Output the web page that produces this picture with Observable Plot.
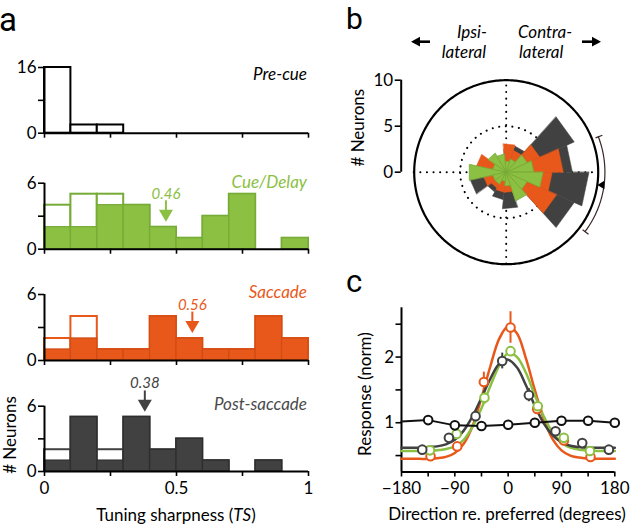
<!DOCTYPE html>
<html><head><meta charset="utf-8">
<script src="https://cdn.jsdelivr.net/npm/d3@7"></script>
<script src="https://cdn.jsdelivr.net/npm/@observablehq/plot@0.6"></script>
<style>
body{margin:0;background:#fff;}
#fig{position:relative;width:640px;height:527px;overflow:hidden;font-family:Lato,"Noto Sans",sans-serif;background:#fff;}
#fig svg{position:absolute;overflow:visible;}
</style></head><body><div id="fig"></div>
<script>
// ---------- DATA: panel a (histograms of tuning sharpness) ----------
const binStarts = [0, 0.1, 0.2, 0.3, 0.4, 0.5, 0.6, 0.7, 0.8, 0.9];
const binWidth = 0.1;
const preCueAll = [16, 2, 2, 0, 0, 0, 0, 0, 0, 0];
const cueAll    = [4, 5, 5, 4, 2, 1, 3, 5, 0, 1];
const cueSig    = [2, 2, 4, 4, 2, 1, 3, 5, 0, 1];
const sacAll    = [2, 4, 1, 1, 4, 2, 1, 1, 4, 2];
const sacSig    = [1, 2, 1, 1, 4, 2, 1, 1, 4, 2];
const postAll   = [2, 5, 2, 5, 2, 3, 1, 0, 1, 0];
const postSig   = [1, 5, 1, 5, 2, 3, 1, 0, 1, 0];
const medianCue = 0.46, medianSac = 0.56, medianPost = 0.38;
const histTicksX = [0, 0.25, 0.5, 0.75, 1];
const histLabelsX = [0, 0.5, 1];

// ---------- DATA: panel b (polar histogram of preferred direction) ----------
const dirBinStart = [0, 24, 48, 72, 96, 120, 144, 168, 192, 216, 240, 264, 288, 312, 336];
const dirBinWidth = 24;
const polarGray   = [7.2, 8.1, 3.0, 2.5, 1.5, 1.5, 2.0, 3.0, 4.0, 2.5, 3.0, 4.0, 2.0, 8.1, 9.0];
const polarOrange = [6.2, 4.0, 2.5, 3.1, 1.5, 2.0, 3.3, 2.5, 2.5, 2.0, 2.2, 2.2, 2.5, 6.0, 5.0];
const polarGreen  = [3.0, 2.5, 1.5, 1.2, 2.0, 2.4, 1.5, 4.1, 1.5, 1.5, 1.0, 1.5, 3.3, 2.5, 4.0];
const polarMax = 10, polarInner = 5;
const meanDir = -8, ciLow = -37, ciHigh = 21;
const polarTicks = [0, 5, 10];

// ---------- DATA: panel c (population tuning curves) ----------
const fitX      = [-180,-165,-150,-135,-120,-105,-90,-75,-60,-45,-30,-15,0,15,30,45,60,75,90,105,120,135,150,165,180];
const fitOrange = [.45,.45,.45,.45,.46,.48,.54,.68,.95,1.38,1.86,2.28,2.47,2.36,1.98,1.50,1.06,.75,.58,.50,.47,.45,.45,.45,.45];
const fitGreen  = [.57,.57,.57,.57,.58,.60,.64,.74,.94,1.22,1.56,1.87,2.06,2.00,1.76,1.42,1.10,.85,.70,.62,.59,.58,.57,.57,.57];
const fitGray   = [.62,.62,.62,.63,.64,.67,.74,.88,1.10,1.38,1.67,1.90,1.96,1.84,1.57,1.26,.99,.81,.70,.65,.63,.62,.62,.62,.62];
const ptsOrangeX = [-131,-86,-41,4,49,94,139];
const ptsOrangeY = [0.49,0.64,1.62,2.45,1.21,0.73,0.48];
const errOrange  = [0.03,0.04,0.15,0.24,0.05,0.04,0.03];
const ptsGreenX  = [-132,-87,-40,4,50,94,138];
const ptsGreenY  = [0.58,0.83,1.38,2.09,1.25,0.77,0.57];
const errGreen   = [0.03,0.04,0.10,0.06,0.04,0.03,0.03];
const ptsGrayX   = [-145,-100,-55,-10,35,80,125,170];
const ptsGrayY   = [0.59,0.77,1.10,1.94,1.42,0.87,0.69,0.59];
const errGray    = [0.03,0.03,0.04,0.12,0.10,0.03,0.03,0.03];
const preX = [-180,-135,-90,-45,0,45,90,135,180];
const preY = [1.02,1.04,0.96,0.95,0.97,1.00,1.03,1.03,1.00];
const cXDomain = [-180, 180], cYDomain = [0.25, 2.75];
const cXTicks = [-180,-135,-90,-45,0,45,90,135,180];
const cXLabels = [-180,-90,0,90,180];
const cYTicks = [0.5,1,1.5,2,2.5];
const cYLabels = [1,2];

// ---------- STYLE ----------
const GREEN = "#8bc043", GREEN_EDGE = "#76ab37";
const ORANGE = "#e8581b", ORANGE_EDGE = "#d24d14";
const GRAY = "#414141", GRAY_EDGE = "#2e2e2e";
const FONT = "Lato, 'Noto Sans', sans-serif";
const baseStyle = {fontFamily: FONT, fontSize: "17px", background: "none", overflow: "visible"};
const fig = document.getElementById("fig");
function place(svg, left, top) { svg.style.left = left + "px"; svg.style.top = top + "px"; fig.appendChild(svg); }
const downTri = {draw(ctx, size) { const r = Math.sqrt(size / Math.PI); ctx.moveTo(0, 0); ctx.lineTo(-r, -1.7 * r); ctx.lineTo(r, -1.7 * r); ctx.closePath(); }};
const fmtMinus = d => d < 0 ? "\u2212" + Math.abs(d) : String(d);

// ---------- PANEL a ----------
function histogram(o) {
  const rows = binStarts.map((s, i) => ({x1: s, x2: s + binWidth, all: o.all[i], sig: o.sig ? o.sig[i] : 0}));
  const marks = [
    Plot.rect(rows.filter(d => d.all > 0), {x1: "x1", x2: "x2", y1: 0, y2: "all", fill: "white", stroke: o.outline, strokeWidth: 2, inset: 0})
  ];
  if (o.sig) marks.push(Plot.rect(rows.filter(d => d.sig > 0), {x1: "x1", x2: "x2", y1: 0, y2: "sig", fill: o.fill, stroke: o.edge, strokeWidth: 1.3, inset: 0}));
  marks.push(Plot.ruleY([0], {x1: 0, x2: 1, stroke: "#000", strokeWidth: 2}));
  marks.push(Plot.ruleX([0], {y1: 0, y2: o.ymax, stroke: "#000", strokeWidth: 2}));
  marks.push(Plot.axisX({ticks: histTicksX, tickSize: 5, tickPadding: 5, strokeWidth: 1.6, fontSize: 17, label: null,
    tickFormat: o.bottom ? (d => histLabelsX.includes(d) ? String(d) : "") : (() => "")}));
  marks.push(Plot.axisY({ticks: o.yticks, tickSize: 6, tickPadding: 2, strokeWidth: 1.6, fontSize: 17, label: null,
    tickFormat: d => o.ylabels.includes(d) ? String(d) : ""}));
  marks.push(Plot.text([o.title], {text: d => d, frameAnchor: "top-right", textAnchor: "end", lineAnchor: "middle",
    dx: -1.5, dy: o.titleDy, fill: o.titleColor, fontStyle: "italic", fontSize: 17}));
  if (o.median != null) {
    const bin = Math.floor(o.median / binWidth);
    const tip = o.sig[bin] + 0.5;
    const m = [{x: o.median, tip}];
    marks.push(Plot.ruleX(m, {x: "x", y1: d => d.tip + 1.0, y2: d => d.tip + 1.9, stroke: o.fill, strokeWidth: 2}));
    marks.push(Plot.dot(m, {x: "x", y: "tip", symbol: downTri, r: 7, fill: o.fill, stroke: "none"}));
    marks.push(Plot.text(m, {x: "x", y: "tip", dy: -28, text: d => d3.format(".2f")(d.x), fill: o.fill,
      fontStyle: "italic", fontSize: 15, lineAnchor: "middle"}));
  }
  return Plot.plot({width: 330, height: o.height, marginLeft: 44, marginRight: 22, marginTop: o.marginTop, marginBottom: o.marginBottom,
    x: {domain: [0, 1]}, y: {domain: [0, o.ymax]}, style: baseStyle, marks});
}

place(histogram({height: 95, marginTop: 22, marginBottom: 7.3, ymax: 16, yticks: [0, 8, 16], ylabels: [0, 16],
  all: preCueAll, sig: null, outline: "#000", title: "Pre-cue", titleColor: "#000", titleDy: 7}), 0, 45);
place(histogram({height: 100, marginTop: 22.7, marginBottom: 11.3, ymax: 6, yticks: [0, 3, 6], ylabels: [0, 6],
  all: cueAll, sig: cueSig, outline: GREEN_EDGE, fill: GREEN, edge: GREEN_EDGE, title: "Cue/Delay", titleColor: GREEN, titleDy: -1, median: medianCue}), 0, 160);
place(histogram({height: 100, marginTop: 24, marginBottom: 10, ymax: 6, yticks: [0, 3, 6], ylabels: [0, 6],
  all: sacAll, sig: sacSig, outline: ORANGE, fill: ORANGE, edge: ORANGE_EDGE, title: "Saccade", titleColor: ORANGE, titleDy: -2, median: medianSac}), 0, 270);
place(histogram({height: 162, marginTop: 40.7, marginBottom: 56, ymax: 6, yticks: [0, 3, 6], ylabels: [0, 6],
  all: postAll, sig: postSig, outline: GRAY, fill: GRAY, edge: GRAY_EDGE, title: "Post-saccade", titleColor: "#4a4a4a", titleDy: -1.5, median: medianPost, bottom: true}), 0, 365);

// ---------- PANEL b ----------
const rad = Math.PI / 180;
function wedges(counts, key) {
  const rows = [];
  dirBinStart.forEach((a0, i) => {
    const r = counts[i]; if (!(r > 0)) return;
    const a1 = a0 + dirBinWidth, id = key + i;
    rows.push({id, x: 0, y: 0});
    rows.push({id, x: r * Math.cos(a0 * rad), y: r * Math.sin(a0 * rad)});
    rows.push({id, x: r * Math.cos(a1 * rad), y: r * Math.sin(a1 * rad)});
  });
  return rows;
}
function ring(r, a0, a1, step) {
  return d3.range(a0, a1, step).concat([a1]).map(a => ({x: r * Math.cos(a * rad), y: r * Math.sin(a * rad)}));
}
const leftTri = {draw(ctx, size) { const r = Math.sqrt(size / Math.PI); ctx.moveTo(0, 0); ctx.lineTo(1.7 * r, -r); ctx.lineTo(1.7 * r, r); ctx.closePath(); }};
const arcR = polarMax * 1.073;
const polar = Plot.plot({
  width: 300, height: 225, marginLeft: 0, marginRight: 0, marginTop: 0, marginBottom: 0,
  x: {domain: [-polarMax, polarMax], range: [73.7, 257.7], axis: null},
  y: {domain: [-polarMax, polarMax], range: [203.7, 19.7], axis: null},
  style: baseStyle,
  marks: [
    Plot.ruleY([0], {x1: -polarMax, x2: polarMax, stroke: "#000", strokeWidth: 2, strokeDasharray: "0.1,6.5", strokeLinecap: "round"}),
    Plot.ruleX([0], {y1: -polarMax, y2: polarMax, stroke: "#000", strokeWidth: 2, strokeDasharray: "0.1,6.5", strokeLinecap: "round"}),
    Plot.line(ring(polarInner, 0, 360, 2), {x: "x", y: "y", stroke: "#000", strokeWidth: 2, strokeDasharray: "0.1,6.5", strokeLinecap: "round"}),
    Plot.line(wedges(polarGray, "g"), {x: "x", y: "y", z: "id", fill: GRAY, stroke: GRAY, strokeWidth: 0.5, curve: "linear-closed"}),
    Plot.line(wedges(polarOrange, "o"), {x: "x", y: "y", z: "id", fill: ORANGE, stroke: ORANGE, strokeWidth: 0.5, curve: "linear-closed"}),
    Plot.line(wedges(polarGreen, "e"), {x: "x", y: "y", z: "id", fill: GREEN, stroke: GREEN_EDGE, strokeWidth: 0.8, curve: "linear-closed"}),
    Plot.line(ring(polarMax, 0, 360, 1), {x: "x", y: "y", stroke: "#000", strokeWidth: 2.2}),
    Plot.line(ring(arcR, ciLow, ciHigh, 1), {x: "x", y: "y", stroke: "#3a2626", strokeWidth: 1.2}),
    Plot.link([ciLow, ciHigh], {x1: a => polarMax * 1.04 * Math.cos(a * rad), y1: a => polarMax * 1.04 * Math.sin(a * rad),
      x2: a => polarMax * 1.12 * Math.cos(a * rad), y2: a => polarMax * 1.12 * Math.sin(a * rad), stroke: "#3a2626", strokeWidth: 1.2}),
    Plot.dot([meanDir], {x: a => polarMax * 1.0 * Math.cos(a * rad), y: a => polarMax * 1.0 * Math.sin(a * rad),
      symbol: leftTri, r: 4.2, fill: "#000", stroke: "none"})
  ]
});
place(polar, 340, 60);

const radialAxis = Plot.plot({
  width: 80, height: 111.7, marginLeft: 60.7, marginRight: 10, marginTop: 9.7, marginBottom: 10,
  x: {domain: [0, 1], axis: null}, y: {domain: [0, polarMax]}, style: baseStyle,
  marks: [
    Plot.ruleX([0], {y1: 0, y2: polarMax, stroke: "#000", strokeWidth: 2}),
    Plot.axisY({ticks: polarTicks, tickSize: 6, tickPadding: 2, strokeWidth: 1.6, fontSize: 17, label: null})
  ]
});
place(radialAxis, 340, 70);

// ---------- PANEL c ----------
const fitRows = (ys) => fitX.map((x, i) => ({x, y: ys[i]}));
const ptRows = (xs, ys, es) => xs.map((x, i) => ({x, y: ys[i], e: es ? es[i] : 0}));
const oPts = ptRows(ptsOrangeX, ptsOrangeY, errOrange);
const gPts = ptRows(ptsGreenX, ptsGreenY, errGreen);
const kPts = ptRows(ptsGrayX, ptsGrayY, errGray);
const prePts = ptRows(preX, preY, null);
const tuning = Plot.plot({
  width: 300, height: 232, marginLeft: 61, marginRight: 25.7, marginTop: 12.3, marginBottom: 55.5,
  x: {domain: cXDomain}, y: {domain: cYDomain}, style: baseStyle,
  marks: [
    Plot.ruleX([cXDomain[0]], {y1: cYDomain[0], y2: cYDomain[1], stroke: "#000", strokeWidth: 2}),
    Plot.ruleY([cYDomain[0]], {x1: cXDomain[0], x2: cXDomain[1], stroke: "#000", strokeWidth: 2}),
    Plot.axisX({ticks: cXTicks, tickSize: 5, tickPadding: 5, strokeWidth: 1.6, fontSize: 17, label: null,
      tickFormat: d => cXLabels.includes(d) ? fmtMinus(d) : ""}),
    Plot.axisY({ticks: cYTicks, tickSize: 5.5, tickPadding: 2, strokeWidth: 1.6, fontSize: 17, label: null,
      tickFormat: d => cYLabels.includes(d) ? String(d) : ""}),
    Plot.ruleX(oPts, {x: "x", y1: d => d.y - d.e, y2: d => d.y + d.e, stroke: ORANGE, strokeWidth: 2}),
    Plot.ruleX(gPts, {x: "x", y1: d => d.y - d.e, y2: d => d.y + d.e, stroke: GREEN, strokeWidth: 2}),
    Plot.ruleX(kPts, {x: "x", y1: d => d.y - d.e, y2: d => d.y + d.e, stroke: GRAY, strokeWidth: 2}),
    Plot.line(fitRows(fitOrange), {x: "x", y: "y", stroke: ORANGE, strokeWidth: 2.5, curve: "catmull-rom"}),
    Plot.line(fitRows(fitGreen), {x: "x", y: "y", stroke: GREEN, strokeWidth: 2.5, curve: "catmull-rom"}),
    Plot.line(fitRows(fitGray), {x: "x", y: "y", stroke: GRAY, strokeWidth: 2.5, curve: "catmull-rom"}),
    Plot.line(prePts, {x: "x", y: "y", stroke: "#111", strokeWidth: 2}),
    Plot.dot(oPts, {x: "x", y: "y", r: 4.3, fill: "white", stroke: ORANGE, strokeWidth: 2}),
    Plot.dot(gPts, {x: "x", y: "y", r: 4.3, fill: "white", stroke: GREEN, strokeWidth: 2}),
    Plot.dot(kPts, {x: "x", y: "y", r: 4.3, fill: "white", stroke: GRAY, strokeWidth: 2}),
    Plot.dot(prePts.filter(d => d.x > cXDomain[0]), {x: "x", y: "y", r: 4.3, fill: "white", stroke: "#111", strokeWidth: 2})
  ]
});
place(tuning, 340, 295);

// ---------- ANNOTATION TEXT ----------
const ov = d3.create("svg").attr("width", 640).attr("height", 527)
  .style("left", "0px").style("top", "0px").style("pointer-events", "none")
  .style("font-family", FONT);
function txt(s, x, y, opts = {}) {
  const t = ov.append("text").attr("x", x).attr("y", y).attr("font-size", opts.size || 17)
    .attr("text-anchor", opts.anchor || "start").attr("fill", opts.fill || "#000");
  if (opts.italic) t.attr("font-style", "italic");
  if (opts.rotate) t.attr("transform", `rotate(${opts.rotate},${x},${y})`);
  if (opts.baseline) t.attr("dominant-baseline", opts.baseline);
  if (opts.family) t.attr("font-family", opts.family);
  t.text(s);
  return t;
}
const LETTER = "Roboto, 'DejaVu Sans', sans-serif";
txt("a", -1, 30.7, {size: 33, family: LETTER});
txt("b", 346, 28.5, {size: 30, family: LETTER});
txt("c", 346, 291.7, {size: 31, family: LETTER});
txt("Ipsi-", 487, 38.3, {italic: true, anchor: "end"});
txt("lateral", 486, 58.2, {italic: true, anchor: "end"});
txt("Contra-", 518, 38.3, {italic: true});
txt("lateral", 519, 58.2, {italic: true});
ov.append("line").attr("x1", 418).attr("x2", 430).attr("y1", 41.7).attr("y2", 41.7).attr("stroke", "#000").attr("stroke-width", 2.6);
ov.append("path").attr("d", "M411,41.7L420,36.8L420,46.6Z").attr("fill", "#000");
ov.append("line").attr("x1", 582).attr("x2", 594).attr("y1", 41.7).attr("y2", 41.7).attr("stroke", "#000").attr("stroke-width", 2.6);
ov.append("path").attr("d", "M601,41.7L592,36.8L592,46.6Z").attr("fill", "#000");
txt("# Neurons", 9, 435, {rotate: -90, anchor: "middle", baseline: "central"});
txt("# Neurons", 358, 127.7, {rotate: -90, anchor: "middle", baseline: "central"});
txt("Response (norm)", 364.5, 394, {rotate: -90, anchor: "middle", baseline: "central"});
const tsLabel = txt("", 176, 521, {anchor: "middle"});
tsLabel.append("tspan").text("Tuning sharpness (");
tsLabel.append("tspan").attr("font-style", "italic").text("TS");
tsLabel.append("tspan").text(")");
txt("Direction re. preferred (degrees)", 507, 520, {anchor: "middle"});
fig.appendChild(ov.node());
</script></body></html>
